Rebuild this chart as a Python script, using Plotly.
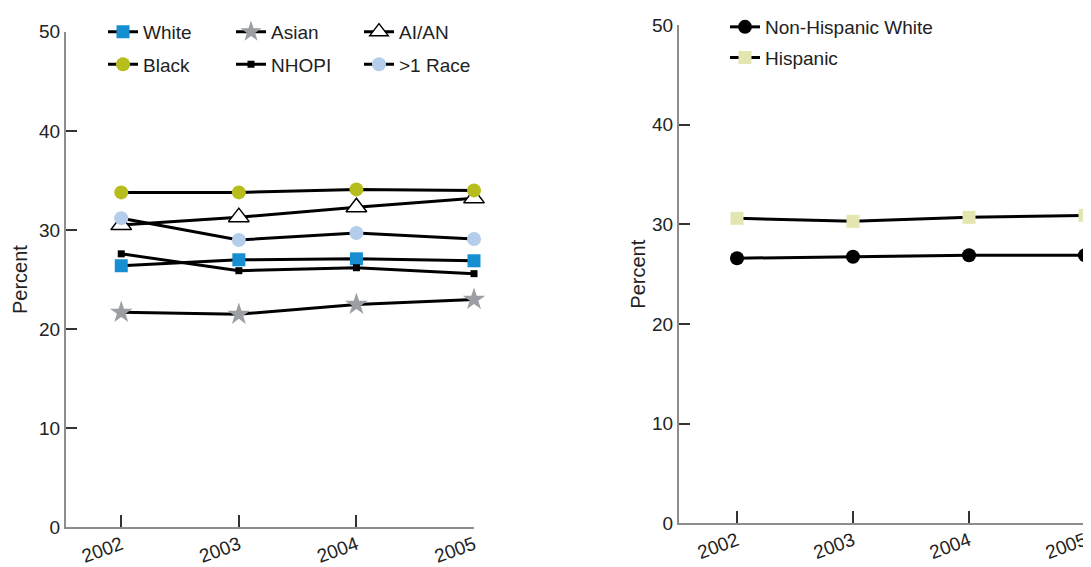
import plotly.graph_objects as go

years = [2002, 2003, 2004, 2005]
year_labels = ["2002", "2003", "2004", "2005"]

# Left panel: race
white = [26.4, 27.0, 27.1, 26.9]
black = [33.8, 33.8, 34.1, 34.0]
asian = [21.7, 21.5, 22.5, 23.0]
nhopi = [27.6, 25.9, 26.2, 25.6]
aian = [30.5, 31.3, 32.3, 33.2]
multi = [31.2, 29.0, 29.7, 29.1]

# Right panel: ethnicity
nh_white = [26.6, 26.75, 26.9, 26.9]
hispanic = [30.6, 30.3, 30.7, 30.9]

OFF = 8  # page body margin
W, H = 1091 - OFF, 567 - OFF
FONT = "Liberation Sans, Arial, sans-serif"
LINE = dict(color="black", width=3)

fig = go.Figure()

def add(x, y, name, xa, ya, legend, marker):
    fig.add_trace(go.Scatter(
        x=x, y=y, name=name, mode="lines+markers", xaxis=xa, yaxis=ya,
        line=LINE, marker=marker, legend=legend, cliponaxis=False,
    ))

# Row 1 legend
add(years, white, "White", "x", "y", "legend",
    dict(symbol="square", size=13, color="#168fd2"))
add(years, asian, "Asian", "x", "y", "legend",
    dict(symbol="star", size=17, color="#9b9ea2"))
add(years, aian, "AI/AN", "x", "y", "legend",
    dict(symbol="triangle-up", size=18, color="white", line=dict(color="black", width=1.5)))
# Row 2 legend
add(years, black, "Black", "x", "y", "legend2",
    dict(symbol="circle", size=14, color="#b7bd1c"))
add(years, nhopi, "NHOPI", "x", "y", "legend2",
    dict(symbol="square", size=7, color="black"))
add(years, multi, ">1 Race", "x", "y", "legend2",
    dict(symbol="circle", size=14, color="#b3cdeb"))

# Right panel
add(years, nh_white, "Non-Hispanic White", "x2", "y2", "legend3",
    dict(symbol="circle", size=14, color="black"))
add(years, hispanic, "Hispanic", "x2", "y2", "legend4",
    dict(symbol="square", size=13, color="#e3e6b0"))

axis_common = dict(
    showgrid=False, zeroline=False, showline=True, linecolor="#8c8c8c", linewidth=2,
    ticks="inside", tickcolor="#333333", tickwidth=1.5, automargin=False,
    tickfont=dict(family=FONT, size=19, color="#222222"),
)

def px_x(a, b):
    return [(a - OFF) / W, (b - OFF) / W]

def px_y(top, bottom):
    return [(H - (bottom - OFF)) / H, (H - (top - OFF)) / H]

fig.update_layout(
    width=W, height=H,
    margin=dict(l=0, r=0, t=0, b=0),
    paper_bgcolor="white", plot_bgcolor="white",
    font=dict(family=FONT, size=19, color="#222222"),
    xaxis=dict(axis_common, domain=px_x(66, 474), range=[2001.53, 2005],
               tickvals=years, ticktext=year_labels, tickangle=-20, ticklen=12, anchor="y",
               ticklabelstandoff=-3),
    yaxis=dict(axis_common, domain=px_y(26, 527), range=[0, 50], tickvals=[0, 10, 20, 30, 40, 50],
               ticklen=11, anchor="x",
               title=dict(text="Percent", font=dict(family=FONT, size=20), standoff=6)),
    xaxis2=dict(axis_common, domain=px_x(679, 1085), range=[2001.5, 2005],
                tickvals=years, ticktext=year_labels, tickangle=-20, ticklen=12, anchor="y2",
                ticklabelstandoff=-3),
    yaxis2=dict(axis_common, domain=px_y(19, 523), range=[0, 50], tickvals=[0, 10, 20, 30, 40, 50],
                ticklen=11, anchor="x2",
                title=dict(text="Percent", font=dict(family=FONT, size=20), standoff=1)),
)

leg_common = dict(orientation="h", bgcolor="rgba(0,0,0,0)", borderwidth=0,
                  font=dict(family=FONT, size=19, color="#222222"),
                  xanchor="left", yanchor="middle", xref="paper", yref="paper")
fig.update_layout(
    legend=dict(leg_common, x=95 / W, y=(H - 18) / H, entrywidth=83, entrywidthmode="pixels"),
    legend2=dict(leg_common, x=95 / W, y=(H - 51) / H, entrywidth=83, entrywidthmode="pixels"),
    legend3=dict(leg_common, x=717 / W, y=(H - 13) / H),
    legend4=dict(leg_common, x=717 / W, y=(H - 44) / H),
)

fig.write_html("out.html")
